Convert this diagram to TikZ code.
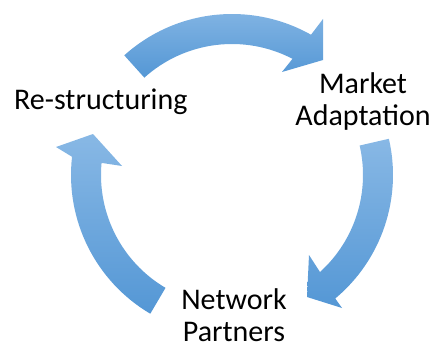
\documentclass[tikz,border=0pt]{standalone}
\usepackage{fontspec}
\setmainfont{Carlito}
\usetikzlibrary{calc}
\begin{document}
\begin{tikzpicture}[x=1pt,y=1pt,
  arrowfill/.style={top color={rgb,255:red,136;green,184;blue,229},bottom color={rgb,255:red,84;green,151;blue,213},draw=none},
  lbl/.style={inner sep=0pt,font=\fontsize{30}{32}\selectfont,align=center,text=black}]
\useasboundingbox (0,0) rectangle (437,349);
\coordinate (C) at (232,174);
% top arrow
\path[arrowfill] ($(C)+(132:161)$) arc[start angle=132,end angle=60.6,radius=161]
  -- (323,330) -- (323,289) -- (282,277) -- ($(C)+(62.5:131)$)
  arc[start angle=62.5,end angle=132,radius=131] -- cycle;
% right arrow
\path[arrowfill] ($(C)+(13:161)$) arc[start angle=13,end angle=-50.1,radius=161]
  -- (342,41) -- (307,52) -- (309,94) -- ($(C)+(-47.8:131)$)
  arc[start angle=-47.8,end angle=13,radius=131] -- cycle;
% left arrow
\path[arrowfill] ($(C)+(239.5:161)$) arc[start angle=239.5,end angle=173.5,radius=161]
  -- (56,202) -- (93,215) -- (122,183) -- ($(C)+(174.7:131)$)
  arc[start angle=174.7,end angle=239.5,radius=131] -- cycle;
\node[lbl,anchor=base west] (rs) at (14,240) {Re-structuring};
\node[lbl,anchor=base] (ma) at (363,224) {Market\\Adaptation};
\node[lbl,anchor=base] (np) at (234,7.5) {Network\\Partners};
\end{tikzpicture}
\end{document}
